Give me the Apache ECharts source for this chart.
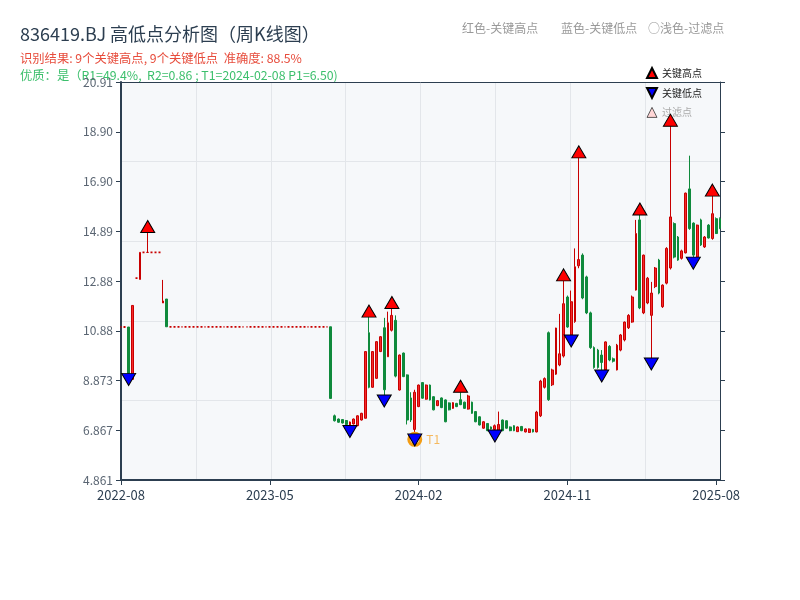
<!DOCTYPE html>
<html><head><meta charset="utf-8">
<script src="https://cdn.jsdelivr.net/npm/echarts@6/dist/echarts.min.js"></script>
<style>html,body{margin:0;padding:0;background:#fff}#c{width:800px;height:600px}</style>
</head><body><div id="c"></div>
<script>
const categories = [
'2022-08-18','2022-08-25','2022-09-01','2022-09-08','2022-09-15','2022-09-22','2022-09-29','2022-10-06','2022-10-13','2022-10-20',
'2022-10-27','2022-11-03','2022-11-10','2022-11-17','2022-11-24','2022-12-01','2022-12-08','2022-12-15','2022-12-22','2022-12-29',
'2023-01-05','2023-01-12','2023-01-19','2023-01-26','2023-02-02','2023-02-09','2023-02-16','2023-02-23','2023-03-02','2023-03-09',
'2023-03-16','2023-03-23','2023-03-30','2023-04-06','2023-04-13','2023-04-20','2023-04-27','2023-05-04','2023-05-11','2023-05-18',
'2023-05-25','2023-06-01','2023-06-08','2023-06-15','2023-06-22','2023-06-29','2023-07-06','2023-07-13','2023-07-20','2023-07-27',
'2023-08-03','2023-08-10','2023-08-17','2023-08-24','2023-08-31','2023-09-07','2023-09-14','2023-09-21','2023-09-28','2023-10-05',
'2023-10-12','2023-10-19','2023-10-26','2023-11-02','2023-11-09','2023-11-16','2023-11-23','2023-11-30','2023-12-07','2023-12-14',
'2023-12-21','2023-12-28','2024-01-04','2024-01-11','2024-01-18','2024-01-25','2024-02-01','2024-02-08','2024-02-15','2024-02-22',
'2024-02-29','2024-03-07','2024-03-14','2024-03-21','2024-03-28','2024-04-04','2024-04-11','2024-04-18','2024-04-25','2024-05-02',
'2024-05-09','2024-05-16','2024-05-23','2024-05-30','2024-06-06','2024-06-13','2024-06-20','2024-06-27','2024-07-04','2024-07-11',
'2024-07-18','2024-07-25','2024-08-01','2024-08-08','2024-08-15','2024-08-22','2024-08-29','2024-09-05','2024-09-12','2024-09-19',
'2024-09-26','2024-10-03','2024-10-10','2024-10-17','2024-10-24','2024-10-31','2024-11-07','2024-11-14','2024-11-21','2024-11-28',
'2024-12-05','2024-12-12','2024-12-19','2024-12-26','2025-01-02','2025-01-09','2025-01-16','2025-01-23','2025-01-30','2025-02-06',
'2025-02-13','2025-02-20','2025-02-27','2025-03-06','2025-03-13','2025-03-20','2025-03-27','2025-04-03','2025-04-10','2025-04-17',
'2025-04-24','2025-05-01','2025-05-08','2025-05-15','2025-05-22','2025-05-29','2025-06-05','2025-06-12','2025-06-19','2025-06-26',
'2025-07-03','2025-07-10','2025-07-17','2025-07-24','2025-07-31','2025-08-07','2025-08-14','2025-08-21'
];
// [open, close, low, high]
const ohlc = [
[11.03,11.03,11.03,11.03],[11.03,11.03,11.03,11.03],[11.03,9.16,9.16,11.03],[8.92,11.90,8.92,11.90],[13.00,13.00,13.00,13.00],
[12.95,14.04,12.95,14.04],[14.04,14.04,14.04,14.04],[14.04,14.04,14.04,14.84],[14.04,14.04,14.04,14.04],[14.04,14.04,14.04,14.04],
[14.04,14.04,14.04,14.04],[12.00,12.08,12.00,12.93],[12.16,11.04,11.04,12.16],
[11.04,11.04,11.04,11.04],[11.04,11.04,11.04,11.04],[11.04,11.04,11.04,11.04],[11.04,11.04,11.04,11.04],[11.04,11.04,11.04,11.04],
[11.04,11.04,11.04,11.04],[11.04,11.04,11.04,11.04],[11.04,11.04,11.04,11.04],[11.04,11.04,11.04,11.04],[11.04,11.04,11.04,11.04],
[11.04,11.04,11.04,11.04],[11.04,11.04,11.04,11.04],[11.04,11.04,11.04,11.04],[11.04,11.04,11.04,11.04],[11.04,11.04,11.04,11.04],
[11.04,11.04,11.04,11.04],[11.04,11.04,11.04,11.04],[11.04,11.04,11.04,11.04],[11.04,11.04,11.04,11.04],[11.04,11.04,11.04,11.04],
[11.04,11.04,11.04,11.04],[11.04,11.04,11.04,11.04],[11.04,11.04,11.04,11.04],[11.04,11.04,11.04,11.04],[11.04,11.04,11.04,11.04],
[11.04,11.04,11.04,11.04],[11.04,11.04,11.04,11.04],[11.04,11.04,11.04,11.04],[11.04,11.04,11.04,11.04],[11.04,11.04,11.04,11.04],
[11.04,11.04,11.04,11.04],[11.04,11.04,11.04,11.04],[11.04,11.04,11.04,11.04],[11.04,11.04,11.04,11.04],[11.04,11.04,11.04,11.04],
[11.04,11.04,11.04,11.04],[11.04,11.04,11.04,11.04],[11.04,11.04,11.04,11.04],[11.04,11.04,11.04,11.04],[11.04,11.04,11.04,11.04],
[11.04,11.04,11.04,11.04],[11.04,11.04,11.04,11.04],
[11.04,8.15,8.15,11.04],[7.45,7.25,7.22,7.50],[7.32,7.19,7.17,7.34],[7.30,7.16,7.14,7.32],[7.26,7.10,7.08,7.28],
[7.08,7.20,7.06,7.22],[7.12,7.32,7.10,7.34],[7.05,7.45,7.03,7.47],[7.28,7.55,7.26,7.57],[7.35,10.04,7.35,10.04],
[10.80,8.60,8.56,11.43],[8.60,10.04,8.58,10.06],[8.96,10.44,8.94,10.46],[10.04,10.64,10.02,10.66],[11.00,8.50,8.29,11.40],
[9.83,11.20,9.83,11.65],[10.90,11.50,10.85,11.78],[11.30,9.05,9.00,11.50],[8.49,9.90,8.47,9.92],[9.98,9.03,9.01,10.00],
[9.10,7.28,7.10,9.12],[8.17,7.28,7.20,8.40],[6.90,8.40,6.72,8.50],[7.82,8.69,7.80,8.71],[8.79,8.16,8.14,8.81],
[8.12,8.69,8.10,8.71],[8.69,8.09,8.07,8.71],[8.22,7.69,7.67,8.24],[7.86,8.06,7.84,8.08],[8.17,7.78,7.76,8.19],
[8.09,7.21,7.19,8.11],[7.97,7.69,7.67,7.99],[7.75,7.98,7.73,8.00],[7.95,7.82,7.80,7.97],[8.10,7.90,7.88,8.40],
[8.00,7.75,7.73,8.02],[7.72,8.25,7.70,8.30],[8.00,7.55,7.53,8.02],[7.62,7.21,7.19,7.64],[7.41,7.08,7.06,7.43],
[6.95,7.21,6.93,7.23],[7.14,6.85,6.83,7.16],[7.00,6.92,6.90,7.02],[6.90,7.05,6.88,7.10],[6.85,7.10,6.85,7.62],
[7.28,6.85,6.83,7.30],[7.25,6.95,6.93,7.27],[7.00,6.85,6.83,7.02],[7.05,6.85,6.83,7.07],[6.81,7.00,6.80,7.02],
[7.02,6.85,6.83,7.04],[6.80,6.92,6.78,6.94],[6.78,6.92,6.76,6.94],[6.90,6.80,6.78,6.92],[6.80,7.60,6.78,7.65],
[7.45,8.85,7.40,8.90],[8.60,8.95,8.55,9.00],[10.80,8.10,8.05,10.85],[8.70,9.30,8.65,9.35],[9.13,10.99,9.10,11.00],
[9.50,9.95,9.45,11.56],[9.86,11.97,9.80,12.89],[12.24,11.03,11.00,12.30],[10.71,12.05,10.71,12.50],[11.25,13.46,11.20,14.20],
[13.50,13.75,13.40,17.85],[13.93,12.20,12.15,14.00],[13.05,11.60,11.55,13.10],[11.60,10.20,10.15,11.65],[10.20,9.40,9.35,10.25],
[10.10,9.40,9.35,10.15],[9.90,9.60,9.30,10.10],[9.30,10.43,9.28,10.45],[10.25,9.70,9.65,10.30],[9.75,9.65,9.60,9.80],
[9.30,10.30,9.28,10.35],[10.10,10.71,10.05,10.75],[10.51,11.23,10.45,11.25],[11.00,11.50,10.95,11.55],[11.23,12.24,11.20,12.30],
[12.52,14.80,12.50,15.35],[15.35,11.80,11.75,15.55],[11.60,13.93,11.55,13.95],[12.00,13.00,11.95,13.05],[11.50,12.40,9.78,12.85],
[12.66,13.41,12.60,13.45],[13.73,12.40,12.35,13.78],[11.85,12.72,11.80,12.75],[12.80,14.20,12.75,14.25],[13.41,15.47,13.35,19.13],
[15.20,13.85,13.80,15.25],[14.66,13.73,13.70,14.70],[13.80,14.10,13.75,14.15],[14.02,16.43,14.00,16.45],[16.60,15.00,14.95,17.94],
[15.22,13.93,13.85,15.25],[13.85,15.14,13.85,15.16],[15.35,14.34,14.30,15.40],[14.26,14.66,14.22,14.70],[15.14,14.62,14.60,15.18],
[14.60,15.60,14.55,16.31],[15.40,14.80,14.78,15.45],[15.40,15.00,14.98,15.45]
];
const keyHighIdx = [7,65,71,89,116,120,136,144,155];
const keyLowIdx = [2,60,69,77,98,118,126,139,150];
const t1Idx = 77, t1Price = 6.50;
const yTickLabels = ['4.861','6.867','8.873','10.88','12.88','14.89','16.90','18.90','20.91'];
const yMin = 4.861, yMax = 20.911, yStep = (20.911-4.861)/8;
const labelEvery = 39;

const FONT = 'Noto Sans CJK SC';
const chart = echarts.init(document.getElementById('c'));
const highs = keyHighIdx.map(i => [i, ohlc[i][3]]);
const lows = keyLowIdx.map(i => [i, ohlc[i][2]]);
const DOWN = 'path://M0,0 L10,0 L5,10 Z';
const UP = 'path://M5,0 L10,10 L0,10 Z';
const lastIdx = categories.length - 1;
const showLabel = (i) => i % labelEvery === 0 || i === lastIdx;
// flat weeks (no range) get a slightly heavier outline so they read as short dashes
const candleData = ohlc.map(d => (d[0] === d[1] && d[2] === d[3])
  ? {value: d, itemStyle: {borderWidth: 1.8}}
  : {value: d});
chart.setOption({
  animation: false,
  textStyle: {fontFamily: FONT},
  title: {text: '836419.BJ 高低点分析图（周K线图）', left: 15, top: 20,
    textStyle: {fontSize: 18, fontWeight: 'normal', color: '#2c3e50', fontFamily: FONT}},
  graphic: [
    {type:'text', left: 20, top: 52, z: -10, style:{text:'识别结果: 9个关键高点, 9个关键低点  准确度: 88.5%', fill:'#e74c3c', font:'12.3px "Noto Sans CJK SC"'}},
    {type:'text', left: 20, top: 69, z: -10, style:{text:'优质：是（R1=49.4%,  R2=0.86 ; T1=2024-02-08 P1=6.50)', fill:'#3cbf6c', font:'12.3px "Noto Sans CJK SC"'}},
    {type:'text', left: 462, top: 22, style:{text:'红色-关键高点', fill:'#999', font:'12px "Noto Sans CJK SC"'}},
    {type:'text', left: 561, top: 22, style:{text:'蓝色-关键低点', fill:'#999', font:'12px "Noto Sans CJK SC"'}},
    {type:'text', left: 648, top: 22, style:{text:'○浅色-过滤点', fill:'#999', font:'12px "Noto Sans CJK SC"'}}
  ],
  legend: {orient:'vertical', left: 641, top: 62, itemWidth: 10, itemHeight: 10, itemGap: 8,
    textStyle: {fontSize: 10, color: '#222', fontFamily: FONT},
    data: [{name:'关键高点', icon: UP}, {name:'关键低点', icon: DOWN},
           {name:'过滤点', icon: UP, textStyle:{color:'#aaa'}, itemStyle:{color:'#ffd6d6', borderColor:'#333', borderWidth: 0.8}}]},
  grid: {left: 121, right: 80, top: 82, bottom: 120, show: true, backgroundColor: '#f6f8fa', borderWidth: 0},
  xAxis: [
    {type:'category', data: categories, boundaryGap: false,
     axisLine: {lineStyle: {color:'#2c3e50', width: 2}},
     axisTick: {show: true, interval: showLabel, lineStyle: {color:'#2c3e50'}},
     axisLabel: {interval: showLabel, formatter: v => v.slice(0,7), color:'#2c3e50', fontSize: 13, margin: 9},
     splitLine: {show: false}},
    {type:'value', position:'top', min: 0, max: 8, interval: 1,
     axisLine: {show: true, onZero: false, lineStyle: {color:'#2c3e50', width: 1}},
     axisTick: {show: false}, axisLabel: {show: false},
     splitLine: {show: true, lineStyle: {color: '#e3e6ea', width: 1}}}
  ],
  yAxis: [
    {type:'value', min: yMin, max: yMax, interval: yStep, position:'left',
     axisLine: {show: true, lineStyle: {color:'#2c3e50', width: 2}},
     axisTick: {show: true, lineStyle: {color:'#2c3e50'}},
     axisLabel: {color:'#5a6572', fontSize: 12, formatter: v => yTickLabels[Math.round((v - yMin)/yStep)]},
     splitLine: {show: false}},
    {type:'value', min: yMin, max: yMax, interval: yStep, position:'right',
     axisLine: {show: true, lineStyle: {color:'#2c3e50', width: 1}},
     axisTick: {show: true, lineStyle: {color:'#2c3e50'}},
     axisLabel: {show: false}, splitLine: {show: false}},
    {type:'value', min: 0, max: 5, interval: 1, position:'right',
     axisLine: {show: false}, axisTick: {show: false}, axisLabel: {show: false},
     splitLine: {show: true, lineStyle: {color: '#e3e6ea', width: 1}}}
  ],
  series: [
    {type:'candlestick', name:'K线', data: candleData, barWidth: 2.3,
     itemStyle: {color:'#f52a2a', color0:'#0f8a3c', borderColor:'#c80000', borderColor0:'#0f8a3c', borderWidth: 1}},
    {type:'scatter', name:'关键高点', data: highs, symbol: UP, symbolSize: [14,12], symbolOffset: [0,-6], z: 5,
     itemStyle: {color:'#ff0000', borderColor:'#000', borderWidth: 1, opacity: 1}},
    {type:'scatter', name:'关键低点', data: lows, symbol: DOWN, symbolSize: [14,12], symbolOffset: [0,6], z: 5,
     itemStyle: {color:'#0000ff', borderColor:'#000', borderWidth: 1, opacity: 1}},
    {type:'scatter', name:'过滤点', data: [], symbol: UP, symbolSize: 8,
     itemStyle: {color:'#ffd6d6', borderColor:'#333', borderWidth: 1, opacity: 1}},
    {type:'scatter', name:'T1', data: [[t1Idx, t1Price]], symbol:'circle', symbolSize: 12, z: 4,
     itemStyle: {color:'rgba(0,0,0,0)', borderColor:'#f39c12', borderWidth: 3, opacity: 1},
     label: {show: true, position: 'right', distance: 4, formatter: 'T1', color:'#f5b95f', fontSize: 12}}
  ]
});
</script></body></html>
